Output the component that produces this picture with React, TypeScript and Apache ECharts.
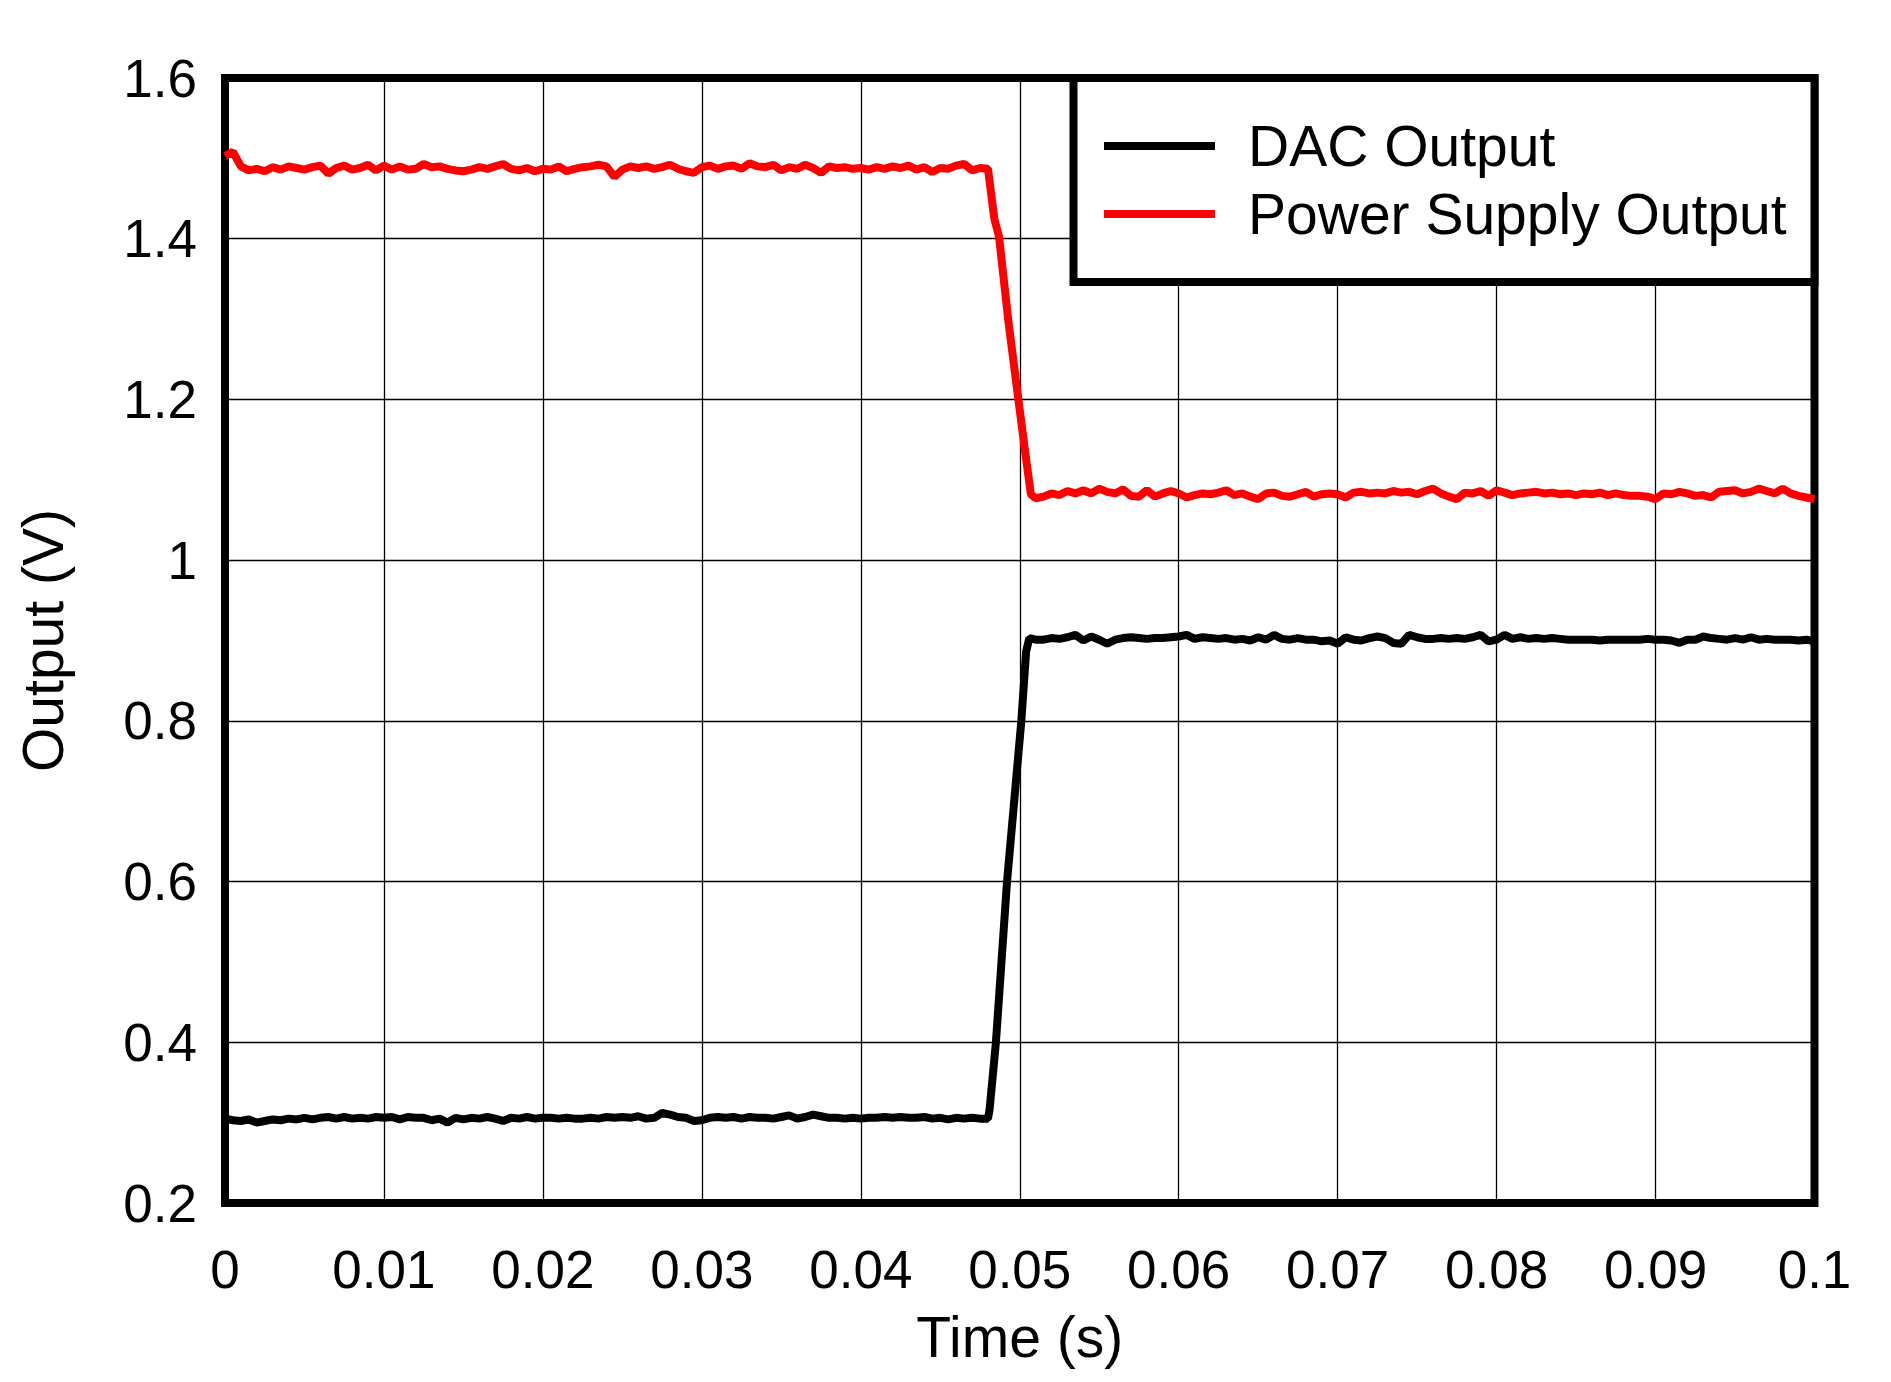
import React, { useEffect, useRef } from "react";
import * as echarts from "echarts";

// sample times (ms) for the flat parts of both traces
const lowTimesMs = [0,0.5,1,1.5,2,2.5,3,3.5,4,4.5,5,5.5,6,6.5,7,7.5,8,8.5,9,9.5,10,10.5,11,11.5,12,12.5,13,13.5,14,14.5,15,15.5,16,16.5,17,17.5,18,18.5,19,19.5,20,20.5,21,21.5,22,22.5,23,23.5,24,24.5,25,25.5,26,26.5,27,27.5,28,28.5,29,29.5,30,30.5,31,31.5,32,32.5,33,33.5,34,34.5,35,35.5,36,36.5,37,37.5,38,38.5,39,39.5,40,40.5,41,41.5,42,42.5,43,43.5,44,44.5,45,45.5,46,46.5,47,47.5];
const highTimesMs = [51,51.5,52,52.5,53,53.5,54,54.5,55,55.5,56,56.5,57,57.5,58,58.5,59,59.5,60,60.5,61,61.5,62,62.5,63,63.5,64,64.5,65,65.5,66,66.5,67,67.5,68,68.5,69,69.5,70,70.5,71,71.5,72,72.5,73,73.5,74,74.5,75,75.5,76,76.5,77,77.5,78,78.5,79,79.5,80,80.5,81,81.5,82,82.5,83,83.5,84,84.5,85,85.5,86,86.5,87,87.5,88,88.5,89,89.5,90,90.5,91,91.5,92,92.5,93,93.5,94,94.5,95,95.5,96,96.5,97,97.5,98,98.5,99,99.5,100];

// DAC Output (V)
const dacLow = [0.305,0.303,0.302,0.304,0.300,0.302,0.304,0.303,0.305,0.304,
0.306,0.304,0.306,0.307,0.305,0.307,0.305,0.306,0.305,0.307,
0.306,0.307,0.304,0.307,0.306,0.306,0.303,0.305,0.300,0.306,
0.304,0.306,0.305,0.307,0.305,0.302,0.306,0.305,0.307,0.305,
0.306,0.306,0.305,0.306,0.305,0.305,0.306,0.305,0.307,0.306,
0.307,0.306,0.308,0.305,0.306,0.312,0.310,0.307,0.306,0.302,
0.303,0.306,0.307,0.306,0.307,0.305,0.307,0.306,0.306,0.305,
0.307,0.309,0.305,0.307,0.310,0.308,0.306,0.306,0.305,0.306,
0.305,0.306,0.306,0.307,0.306,0.307,0.306,0.306,0.307,0.305,
0.306,0.304,0.306,0.305,0.306,0.305];
const dacRiseTimesMs = [48.0,48.1,48.5,49.2,50.1,50.4,50.6];
const dacRise = [0.305,0.316,0.400,0.600,0.800,0.886,0.903];
const dacHigh = [0.901,0.901,0.903,0.902,0.904,0.907,0.900,0.905,0.901,0.896,
0.901,0.903,0.904,0.903,0.902,0.903,0.903,0.904,0.905,0.907,
0.902,0.904,0.903,0.902,0.903,0.901,0.902,0.900,0.904,0.901,
0.907,0.902,0.901,0.903,0.901,0.901,0.899,0.900,0.896,0.904,
0.901,0.900,0.903,0.905,0.903,0.897,0.896,0.907,0.904,0.902,
0.902,0.903,0.902,0.903,0.902,0.904,0.907,0.899,0.901,0.907,
0.902,0.904,0.902,0.903,0.902,0.903,0.902,0.901,0.901,0.901,
0.901,0.900,0.901,0.901,0.901,0.901,0.901,0.902,0.901,0.901,
0.900,0.897,0.901,0.901,0.905,0.903,0.902,0.901,0.903,0.901,
0.904,0.901,0.902,0.901,0.901,0.901,0.900,0.901,0.899];

// Power Supply Output (V)
const psHigh = [1.503,1.508,1.490,1.485,1.487,1.484,1.489,1.486,1.490,1.488,
1.486,1.489,1.491,1.481,1.488,1.491,1.486,1.488,1.492,1.485,
1.491,1.486,1.490,1.486,1.487,1.493,1.489,1.490,1.487,1.485,
1.484,1.486,1.489,1.487,1.490,1.493,1.487,1.485,1.488,1.484,
1.487,1.486,1.490,1.484,1.487,1.489,1.490,1.492,1.490,1.477,
1.486,1.490,1.488,1.490,1.487,1.489,1.492,1.487,1.484,1.482,
1.489,1.491,1.487,1.490,1.491,1.487,1.494,1.490,1.489,1.492,
1.485,1.489,1.487,1.492,1.488,1.482,1.490,1.488,1.489,1.487,
1.488,1.486,1.489,1.487,1.490,1.488,1.491,1.486,1.489,1.483,
1.488,1.487,1.491,1.493,1.485,1.488];
const psDropTimesMs = [48.0,48.4,48.7,49.3,49.9,50.4,50.7];
const psDrop = [1.487,1.425,1.402,1.295,1.202,1.126,1.082];
const psLow = [1.077,1.079,1.083,1.081,1.086,1.083,1.087,1.083,1.089,1.085,
1.083,1.088,1.080,1.079,1.087,1.079,1.083,1.086,1.083,1.078,
1.081,1.083,1.082,1.084,1.087,1.081,1.083,1.079,1.076,1.083,
1.084,1.080,1.079,1.082,1.085,1.079,1.082,1.083,1.082,1.078,
1.084,1.085,1.083,1.084,1.083,1.086,1.084,1.085,1.082,1.086,
1.089,1.083,1.079,1.076,1.084,1.083,1.086,1.080,1.087,1.084,
1.081,1.083,1.084,1.085,1.083,1.084,1.082,1.083,1.081,1.083,
1.082,1.084,1.081,1.083,1.081,1.080,1.080,1.079,1.076,1.083,
1.082,1.085,1.083,1.080,1.081,1.078,1.085,1.086,1.087,1.083,
1.085,1.089,1.086,1.083,1.089,1.083,1.080,1.078,1.076];

const xTickLabels = ["0","0.01","0.02","0.03","0.04","0.05","0.06","0.07","0.08","0.09","0.1"];
const yTickLabels = ["0.2","0.4","0.6","0.8","1","1.2","1.4","1.6"];
const seriesNames = ["DAC Output", "Power Supply Output"];
const seriesColors = ["#000000", "#ff0000"];

function zip(times: number[], vals: number[]) {
  return times.map((t, i) => [t / 1000, vals[i]]);
}

const FONT = "'Liberation Sans', Arial, sans-serif";

export default function App() {
  const ref = useRef<HTMLDivElement>(null);
  useEffect(() => {
    if (!ref.current) return;
    const chart = echarts.init(ref.current, undefined, { renderer: "svg" });
    const dacData = [...zip(lowTimesMs, dacLow), ...zip(dacRiseTimesMs, dacRise), ...zip(highTimesMs, dacHigh)];
    const psData = [...zip(lowTimesMs, psHigh), ...zip(psDropTimesMs, psDrop), ...zip(highTimesMs, psLow)];

    const legX0 = 1104, legX1 = 1215, legTextX = 1248;
    const legY = [146, 214];

    chart.setOption({
      animation: false,
      backgroundColor: "#ffffff",
      textStyle: { fontFamily: FONT },
      grid: {
        left: 225, top: 78, right: 76.5, bottom: 179,
        show: true, borderColor: "#000", borderWidth: 8, backgroundColor: "transparent",
      },
      xAxis: {
        type: "value", min: 0, max: 0.1, interval: 0.01,
        name: "Time (s)", nameLocation: "middle", nameGap: 105,
        nameTextStyle: { fontSize: 57, color: "#000", fontFamily: FONT },
        axisLine: { show: false }, axisTick: { show: false },
        axisLabel: {
          fontSize: 53, color: "#000", margin: 40, fontFamily: FONT,
          formatter: (v: number) => xTickLabels[Math.round(v / 0.01)] ?? "",
        },
        splitLine: { show: true, lineStyle: { color: "#000", width: 1.3 } },
      },
      yAxis: {
        type: "value", min: 0.2, max: 1.6, interval: 0.2,
        name: "Output (V)", nameLocation: "middle", nameGap: 154,
        nameTextStyle: { fontSize: 57, color: "#000", fontFamily: FONT },
        axisLine: { show: false }, axisTick: { show: false },
        axisLabel: {
          fontSize: 53, color: "#000", margin: 28, fontFamily: FONT,
          formatter: (v: number) => yTickLabels[Math.round((v - 0.2) / 0.2)] ?? "",
        },
        splitLine: { show: true, lineStyle: { color: "#000", width: 1.3 } },
      },
      series: [
        { name: seriesNames[0], type: "line", data: dacData, showSymbol: false, symbol: "none",
          lineStyle: { color: seriesColors[0], width: 8 }, itemStyle: { color: seriesColors[0] }, z: 3 },
        { name: seriesNames[1], type: "line", data: psData, showSymbol: false, symbol: "none",
          lineStyle: { color: seriesColors[1], width: 8 }, itemStyle: { color: seriesColors[1] }, z: 3 },
      ],
      graphic: [
        { type: "rect", z: 10, shape: { x: 1073.5, y: 78, width: 741, height: 204 },
          style: { fill: "#fff", stroke: "#000", lineWidth: 8 } },
        ...seriesNames.flatMap((n, i) => [
          { type: "line", z: 11, shape: { x1: legX0, y1: legY[i], x2: legX1, y2: legY[i] },
            style: { stroke: seriesColors[i], lineWidth: 8 } },
          { type: "text", z: 11, x: legTextX, y: legY[i],
            style: { text: n, fontSize: 57, fill: "#000", fontFamily: FONT, verticalAlign: "middle", align: "left" } },
        ]),
      ],
    });
    return () => chart.dispose();
  }, []);
  return <div ref={ref} style={{ position: "absolute", left: 0, top: 0, width: 1891, height: 1382 }} />;
}
